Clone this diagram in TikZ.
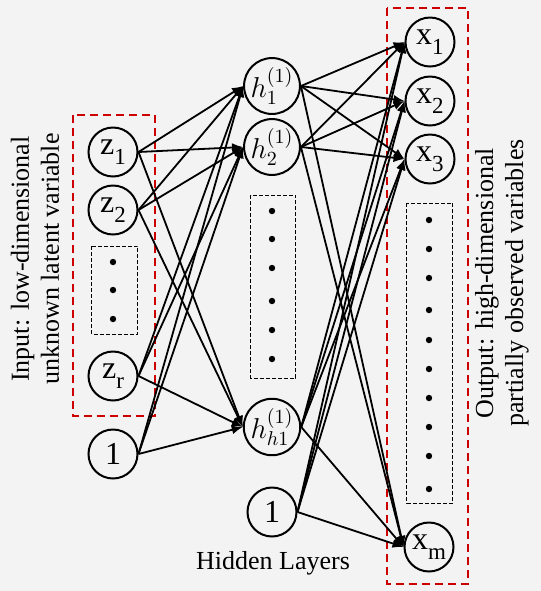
\documentclass[tikz,border=0pt]{standalone}
\usepackage{fontspec}
\setmainfont{Liberation Serif}
\usepackage{xcolor}
\usepackage{tikz}
\usetikzlibrary{arrows.meta}

\definecolor{boxred}{RGB}{204,0,0}
\definecolor{bggray}{RGB}{243,243,243}

% subscript set a little larger and lower, as in the figure
\newcommand{\lowsub}[1]{\raisebox{-0.3em}{\fontsize{11.5}{12}\selectfont #1}}

\tikzset{
  neuron/.style={draw, circle, line width=1pt, minimum size=24.5pt, inner sep=0pt,
    font=\fontsize{16}{18}\selectfont},
  hneuron/.style={neuron, font=\fontsize{14}{16}\selectfont},
  link/.style={-{Latex[length=5.5pt,width=4.5pt]}, line width=0.9pt},
  groupbox/.style={draw=boxred, dash pattern=on 4pt off 2.5pt, line width=1pt},
  dotbox/.style={draw, dash pattern=on 2pt off 1pt, line width=0.5pt},
  caption/.style={font=\fontsize{13}{15}\selectfont, align=center}
}

\begin{document}
\begin{tikzpicture}[x=0.5pt,y=-0.5pt]
    % Background and page size
    \fill[bggray] (0,0) rectangle (541,591);
    \useasboundingbox (0,0) rectangle (541,591);

    % Red dashed groups for input and output
    \draw[groupbox] (73,115) rectangle (155,416);
    \draw[groupbox] (387,8) rectangle (468,584);

    % Dotted boxes with the omitted units
    \draw[dotbox] (92,246) rectangle (138,334);
    \foreach \y in {262,290,319}
        \fill (113,\y) circle (1.6pt);
    \draw[dotbox] (251,195) rectangle (296,378);
    \foreach \y in {211,239,268,301,330,359}
        \fill (272,\y) circle (1.6pt);
    \draw[dotbox] (407,203) rectangle (453,503);
    \foreach \y in {220,249,278,310,340,369,398,427,456,489}
        \fill (429,\y) circle (1.6pt);

    % Input layer
    \node[neuron] (z1) at (113,152) {z\lowsub{1}};
    \node[neuron] (z2) at (113,210) {z\lowsub{2}};
    \node[neuron] (zr) at (113,376) {z\lowsub{r}};
    \node[neuron] (b1) at (113,454) {1};

    % Hidden layer
    \node[hneuron] (h1) at (272,86) {$h_1^{(1)}$};
    \node[hneuron] (h2) at (272,147) {$h_2^{(1)}$};
    \node[hneuron] (hh) at (272,427) {$h_{h1}^{(1)}$};
    \node[neuron] (b2) at (272,512) {1};

    % Output layer
    \node[neuron] (x1) at (430,42) {x\lowsub{1}};
    \node[neuron] (x2) at (430,101) {x\lowsub{2}};
    \node[neuron] (x3) at (430,159) {x\lowsub{3}};
    \node[neuron] (xm) at (429,547) {x\lowsub{m}};

    % Connections input -> hidden
    \foreach \s in {z1,z2,zr,b1}
        \foreach \t in {h1,h2,hh}
            \draw[link] (\s.east) -- (\t.west);

    % Connections hidden -> output
    \foreach \s in {h1,h2,hh,b2}
        \foreach \t in {x1,x2,x3,xm}
            \draw[link] (\s.east) -- (\t.west);

    % Captions
    \node[caption, rotate=90] (intext) at (35,259) {Input: low-dimensional\\unknown latent variable};
    \node[caption, rotate=90] (outtext) at (502,283) {Output: high-dimensional\\partially observed variables};
    \node[caption] (hidtext) at (273,563) {Hidden Layers};
\end{tikzpicture}
\end{document}
